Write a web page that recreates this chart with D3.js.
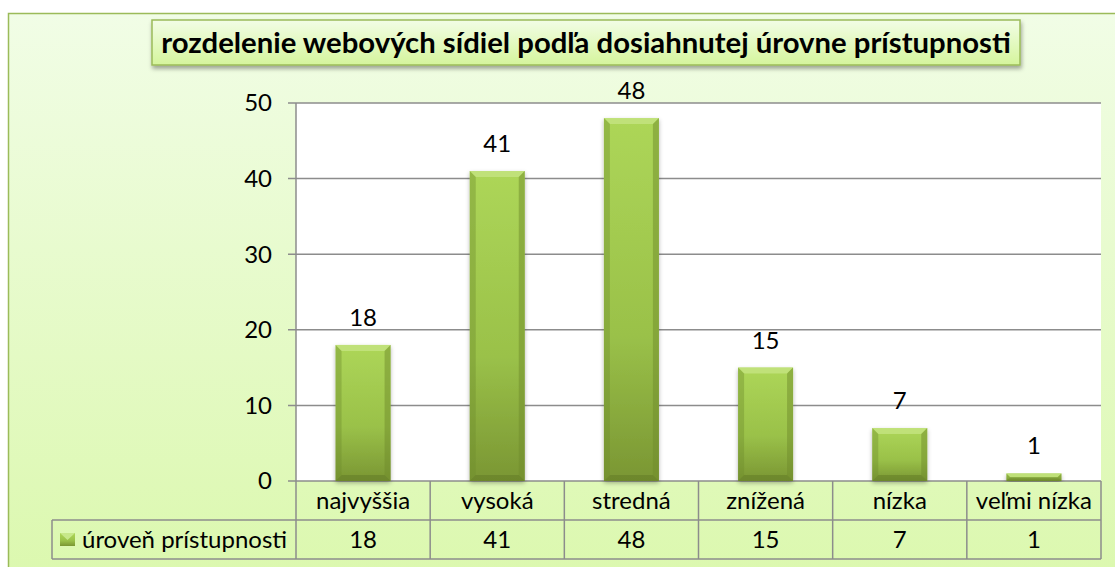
<!DOCTYPE html>
<html><head><meta charset="utf-8">
<script src="https://cdn.jsdelivr.net/npm/d3@7"></script>
<style>body{margin:0;background:#fff;}svg{display:block;}text{font-family:Lato,"Open Sans",sans-serif;}</style>
</head><body>
<script>
const categories = ["najvyššia","vysoká","stredná","znížená","nízka","veľmi nízka"];
const values = [18,41,48,15,7,1];
const seriesName = "úroveň prístupnosti";
const title = "rozdelenie webových sídiel podľa dosiahnutej úrovne prístupnosti";
const yTicks = [0,10,20,30,40,50];

const W=1115,H=567,FS=24;
const svg=d3.select("body").append("svg").attr("width",W).attr("height",H);
const defs=svg.append("defs");
const bg=defs.append("linearGradient").attr("id","bg").attr("x1",0).attr("y1",0).attr("x2",0).attr("y2",1);
bg.append("stop").attr("offset",0).attr("stop-color","#f1fde6");
bg.append("stop").attr("offset",1).attr("stop-color","#dbf8ad");
const tg=defs.append("linearGradient").attr("id","tg").attr("x1",0).attr("y1",0).attr("x2",0).attr("y2",1);
tg.append("stop").attr("offset",0).attr("stop-color","#f2fde6");
tg.append("stop").attr("offset",1).attr("stop-color","#d5f59c");
const barg=defs.append("linearGradient").attr("id","barg").attr("x1",0).attr("y1",0).attr("x2",0).attr("y2",1);
barg.append("stop").attr("offset",0).attr("stop-color","#add658");
barg.append("stop").attr("offset",0.6).attr("stop-color","#9ac149");
barg.append("stop").attr("offset",1).attr("stop-color","#7a9633");
const sh=defs.append("filter").attr("id","sh").attr("x","-5%").attr("y","-20%").attr("width","110%").attr("height","150%");
sh.append("feDropShadow").attr("dx",1).attr("dy",3).attr("stdDeviation",2).attr("flood-color","#000").attr("flood-opacity",0.35);
const bsh=defs.append("filter").attr("id","bsh").attr("x","-20%").attr("y","-5%").attr("width","140%").attr("height","115%");
bsh.append("feDropShadow").attr("dx",0).attr("dy",2).attr("stdDeviation",2).attr("flood-color","#000").attr("flood-opacity",0.3);

// chart background
svg.append("rect").attr("x",8.5).attr("y",13.5).attr("width",W+10).attr("height",H+10)
  .attr("fill","url(#bg)").attr("stroke","#9bbb59").attr("stroke-width",1.5);

// plot area
const L=296,R=1101,T=103,B=481;
const x=d3.scaleBand().domain(categories).range([L,R]).paddingInner(0.59).paddingOuter(0.295);
const colBand=d3.scaleBand().domain(categories).range([L,R]);
const y=d3.scaleLinear().domain([0,50]).range([B,T]);
svg.append("rect").attr("x",L).attr("y",T).attr("width",R-L).attr("height",B-T).attr("fill","#fff");

const grid="#8c8c8c";
svg.append("g").selectAll("line").data(yTicks).join("line")
  .attr("x1",L-8).attr("x2",R).attr("y1",d=>y(d)).attr("y2",d=>y(d))
  .attr("stroke",grid).attr("stroke-width",1.5);
svg.append("line").attr("x1",L).attr("x2",L).attr("y1",T).attr("y2",B).attr("stroke",grid).attr("stroke-width",1.5);
svg.append("g").selectAll("text").data(yTicks).join("text")
  .attr("x",L-24).attr("y",d=>y(d)).attr("dy","0.35em").attr("text-anchor","end")
  .attr("font-size",FS).attr("fill","#000").text(d=>d);

// bars
const bars=svg.append("g").selectAll("g").data(categories).join("g");
bars.each(function(c,i){
  const g=d3.select(this);
  const bx=x(c), bw=x.bandwidth(), by=y(values[i]), bh=B-by;
  g.append("rect").attr("x",bx).attr("y",by).attr("width",bw).attr("height",bh)
    .attr("fill","url(#barg)").attr("filter","url(#bsh)");
  const e=Math.min(6,bh/2);
  g.append("path").attr("d",`M${bx},${by}L${bx+bw},${by}L${bx+bw-e},${by+e}L${bx+e},${by+e}Z`).attr("fill","#c3e37f").attr("opacity",0.85);
  g.append("path").attr("d",`M${bx},${by}L${bx+e},${by+e}L${bx+e},${B-e}L${bx},${B}Z`).attr("fill","#6f8c2c").attr("opacity",0.4);
  g.append("path").attr("d",`M${bx+bw},${by}L${bx+bw-e},${by+e}L${bx+bw-e},${B-e}L${bx+bw},${B}Z`).attr("fill","#6f8c2c").attr("opacity",0.5);
  g.append("path").attr("d",`M${bx},${B}L${bx+e},${B-e}L${bx+bw-e},${B-e}L${bx+bw},${B}Z`).attr("fill","#5d7624").attr("opacity",0.45);
  g.append("text").attr("x",bx+bw/2).attr("y",by-19).attr("text-anchor","middle")
    .attr("font-size",FS).attr("fill","#000").text(values[i]);
});

// data table
const r1=B, r2=520, r3=559, legL=52;
const tbl=svg.append("g").attr("stroke",grid).attr("stroke-width",1.5).attr("fill","none");
tbl.append("line").attr("x1",L).attr("x2",R).attr("y1",r2).attr("y2",r2);
tbl.append("line").attr("x1",legL).attr("x2",L).attr("y1",r2).attr("y2",r2);
tbl.append("line").attr("x1",legL).attr("x2",R).attr("y1",r3).attr("y2",r3);
tbl.append("line").attr("x1",legL).attr("x2",legL).attr("y1",r2).attr("y2",r3);
const edges=categories.map(c=>colBand(c)).concat([R]);
tbl.selectAll("line.v").data(edges).join("line").attr("class","v")
  .attr("x1",d=>d).attr("x2",d=>d).attr("y1",r1).attr("y2",r3);
svg.append("g").selectAll("text").data(categories).join("text")
  .attr("x",c=>colBand(c)+colBand.bandwidth()/2).attr("y",(r1+r2)/2).attr("dy","0.35em")
  .attr("text-anchor","middle").attr("font-size",FS).text(c=>c);
svg.append("g").selectAll("text").data(values).join("text")
  .attr("x",(d,i)=>colBand(categories[i])+colBand.bandwidth()/2).attr("y",(r2+r3)/2).attr("dy","0.35em")
  .attr("text-anchor","middle").attr("font-size",FS).text(d=>d);
// legend key
svg.append("rect").attr("x",60).attr("y",533).attr("width",15).attr("height",13).attr("fill","url(#barg)");
svg.append("path").attr("d","M60,533L75,533L67.5,540Z").attr("fill","#c7e88a");
svg.append("text").attr("x",82).attr("y",(r2+r3)/2).attr("dy","0.35em").attr("font-size",FS).text(seriesName);

// title
svg.append("rect").attr("x",152).attr("y",20).attr("width",868).attr("height",45)
  .attr("fill","url(#tg)").attr("stroke","#9bbb59").attr("stroke-width",1.5).attr("filter","url(#sh)");
const tt=svg.append("text").attr("x",586).attr("y",43).attr("dy","0.35em").attr("text-anchor","middle")
  .attr("font-size",24).attr("font-weight","bold").attr("fill","#000").text(title);
const tw=tt.node().getComputedTextLength();
tt.attr("font-size",24*850/tw);
</script>
</body></html>
